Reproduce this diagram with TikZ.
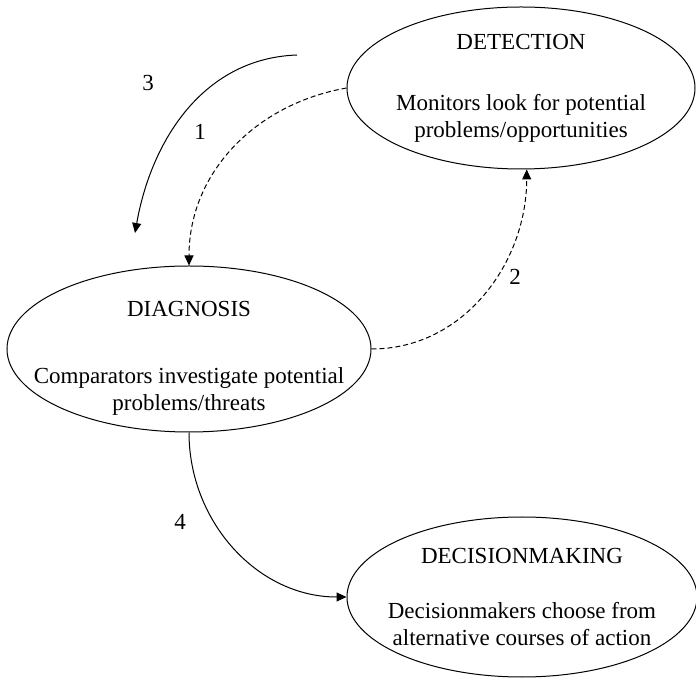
\documentclass[tikz,border=0pt]{standalone}
\usepackage{fontspec}
\setmainfont{Liberation Serif}
\usetikzlibrary{arrows.meta,shapes.geometric}

\begin{document}
\begin{tikzpicture}[x=.5pt,y=.5pt,
  stage/.style={draw,ellipse,line width=.5pt,inner sep=0pt},
  stagetext/.style={align=center,inner sep=0pt,font=\fontsize{11.5}{13.5}\selectfont},
  flow/.style={line width=.5pt,-{Triangle[length=5pt,width=4.5pt]}},
  maybe/.style={dash pattern=on 2.5pt off 1.5pt},
  num/.style={inner sep=1pt,font=\fontsize{11.5}{13}\selectfont}]
\path[use as bounding box] (0,0) rectangle (696,680);

% the three stages
\node[stage,minimum width=174pt,minimum height=81pt] (detection) at (521,592) {};
\node[stagetext] (detectiontext) at (521,592) {DETECTION\\[17pt]Monitors look for potential\\problems/opportunities};
\node[stage,minimum width=182pt,minimum height=83pt] (diagnosis) at (189,331) {};
\node[stagetext] (diagnosistext) at (189,322) {DIAGNOSIS\\[20pt]Comparators investigate potential\\problems/threats};
\node[stage,minimum width=175pt,minimum height=80pt] (decision) at (522,83) {};
\node[stagetext] (decisiontext) at (522,83) {DECISIONMAKING\\[14pt]Decisionmakers choose from\\alternative courses of action};

% flows between them
\coordinate (threestart) at (297,625);
\coordinate (threeend) at (135,447);
\draw[flow] (threestart) to[out=182,in=80] (threeend);
\draw[flow,maybe] (detection.west) to[out=190,in=90] (diagnosis.north);
\draw[flow,maybe] (diagnosis.east) to[out=0,in=-90] (detection.-86);
\draw[flow] (diagnosis.south) to[out=-90,in=180] (decision.west);

\node[num] (one) at (200,548) {1};
\node[num] (two) at (515,403) {2};
\node[num] (three) at (148,597) {3};
\node[num] (four) at (180,158) {4};
\end{tikzpicture}
\end{document}
